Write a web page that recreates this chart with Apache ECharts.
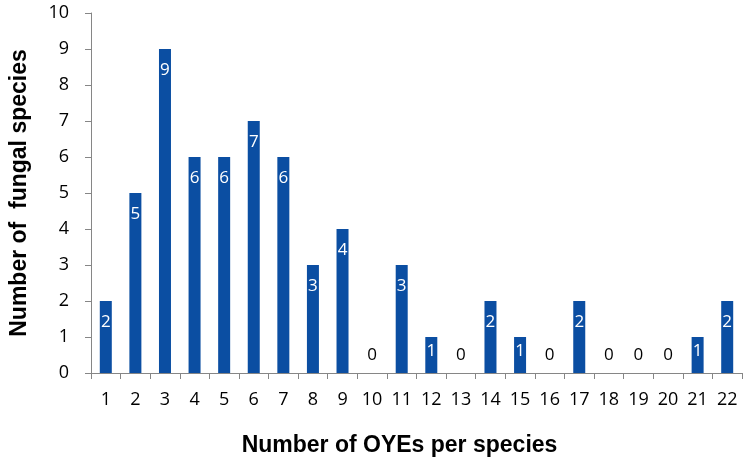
<!DOCTYPE html>
<html>
<head>
<meta charset="utf-8">
<script src="https://cdn.jsdelivr.net/npm/echarts@6/dist/echarts.min.js"></script>
<style>html,body{margin:0;padding:0;background:#fff;}#c{width:747px;height:462px;}</style>
</head>
<body>
<div id="c"></div>
<script>
const categories = ['1','2','3','4','5','6','7','8','9','10','11','12','13','14','15','16','17','18','19','20','21','22'];
const counts = [2,5,9,6,6,7,6,3,4,0,3,1,0,2,1,0,2,0,0,0,1,2];
const xTitle = 'Number of OYEs per species';
const yTitle = 'Number of  fungal species';

const barColor = '#0b4ea2';
const axisGray = '#868686';
const labelFont = 'Open Sans';

const seriesData = counts.map(v => {
  if (v === 0) {
    return { value: v, label: { position: 'top', distance: 9, color: '#000' } };
  }
  if (v === 1) {
    return { value: v, label: { position: 'insideTop', distance: 6 } };
  }
  return { value: v };
});

const chart = echarts.init(document.getElementById('c'), null, { renderer: 'canvas' });
chart.setOption({
  animation: false,
  backgroundColor: '#fff',
  grid: { left: 76, right: 5, top: 13, bottom: 79 },
  xAxis: {
    type: 'category',
    data: categories,
    name: xTitle,
    nameLocation: 'middle',
    nameGap: 61,
    nameTextStyle: { fontFamily: 'Liberation Sans', fontWeight: 'bold', fontSize: 23, color: '#000', padding: [0, 34, 0, 0] },
    axisLine: { show: true, lineStyle: { color: axisGray, width: 1 } },
    axisTick: { show: true, length: 6, lineStyle: { color: axisGray } },
    axisLabel: { color: '#000', fontFamily: labelFont, fontSize: 18, margin: 18 },
    splitLine: { show: false }
  },
  yAxis: {
    type: 'value',
    min: 0, max: 10, interval: 1,
    name: yTitle,
    nameLocation: 'middle',
    nameGap: 60,
    nameTextStyle: { fontFamily: 'Liberation Sans', fontWeight: 'bold', fontSize: 23, color: '#000' },
    axisLine: { show: true, lineStyle: { color: axisGray, width: 1 } },
    axisTick: { show: true, length: 6, lineStyle: { color: axisGray } },
    axisLabel: { color: '#000', fontFamily: labelFont, fontSize: 18, margin: 22 },
    splitLine: { show: false }
  },
  series: [{
    type: 'bar',
    data: seriesData,
    barWidth: 12,
    itemStyle: { color: barColor },
    label: {
      show: true,
      position: 'insideTop',
      distance: 13,
      color: '#fff',
      fontFamily: labelFont,
      fontSize: 17
    }
  }]
});
</script>
</body>
</html>
